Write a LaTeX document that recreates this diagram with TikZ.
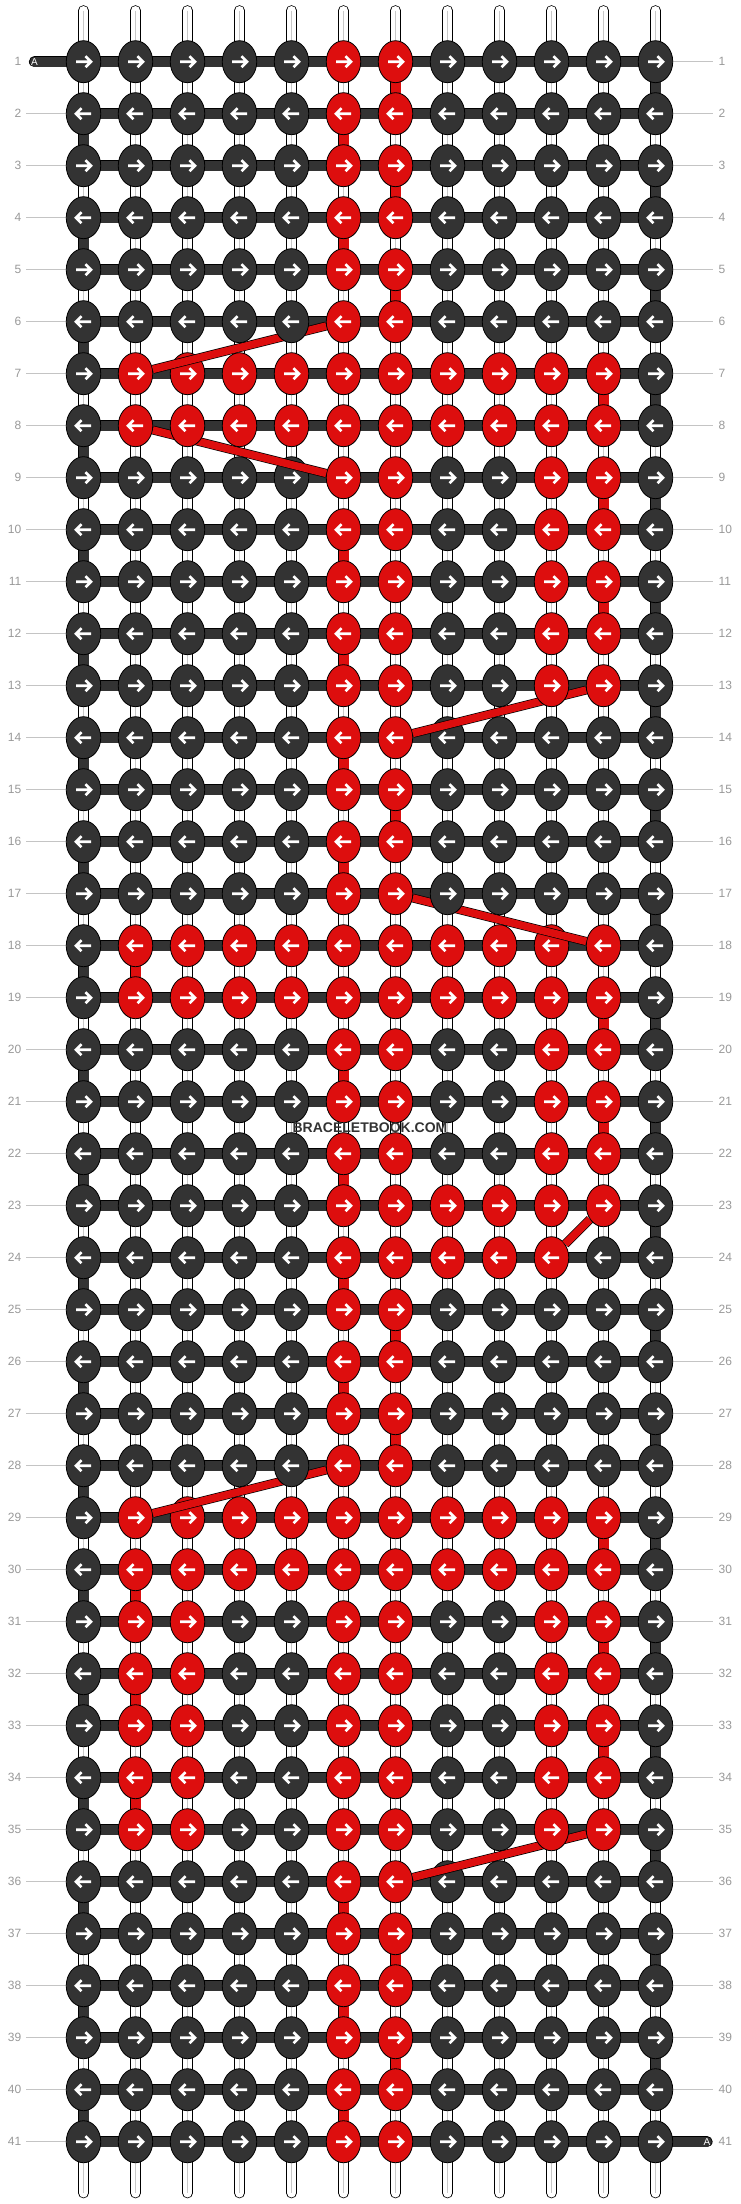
\documentclass[tikz,border=0pt]{standalone}
\usepackage{fontspec}
\setmainfont{Liberation Sans}
\usetikzlibrary{shapes.geometric}
\definecolor{kdark}{HTML}{333333}
\definecolor{kred}{HTML}{DD0E0E}
\definecolor{lblgray}{HTML}{999999}
\definecolor{lblline}{HTML}{C4C4C4}
\definecolor{tubegray}{HTML}{C8C8C8}
\pgfdeclarelayer{bg}
\pgfdeclarelayer{mid}
\pgfdeclarelayer{top}
\pgfsetlayers{bg,main,mid,top}
\tikzset{
  knot/.style={ellipse, draw=black, line width=0.8pt, minimum width=34.5pt, minimum height=42pt, inner sep=0pt},
  arrowline/.style={white, line width=2.6pt},
  hbar/.style={draw=black, line width=0.8pt, double=kdark, double distance=9.6pt},
  gapseg/.style={draw=black, line width=0.8pt, double distance=10pt},
  tube/.style={draw=black, line width=0.8pt, double=white, double distance=9pt},
  tubeline/.style={tubegray, line width=1pt},
  band/.style={draw=black, line width=0.7pt, double=kred, double distance=7.5pt},
  lbl/.style={text=lblgray, font=\fontsize{12}{14}\selectfont, inner ysep=0pt},
  lblrule/.style={lblline, line width=1pt},
  atext/.style={text=white, font=\fontsize{10}{12}\selectfont, inner sep=0pt},
  wmark/.style={text=kdark, font=\bfseries\fontsize{14}{16}\selectfont, inner sep=0pt}
}
\newcommand\drawknot[4]{% row, col, x, y
  \ifcsname isred-#1-#2\endcsname \def\kc{kred}\else\def\kc{kdark}\fi
  \node[knot, fill=\kc] (k-#1-#2) at (#3,#4) {};
  \ifodd#1\relax
    \draw[arrowline] (#3-7.5,#4) -- (#3+6.5,#4) (#3+2,#4-5.5) -- (#3+7.5,#4) -- (#3+2,#4+5.5);
  \else
    \draw[arrowline] (#3+7.5,#4) -- (#3-6.5,#4) (#3-2,#4-5.5) -- (#3-7.5,#4) -- (#3-2,#4+5.5);
  \fi
}
\begin{document}
\begin{tikzpicture}[x=1pt,y=-1pt]
\useasboundingbox (0,0) rectangle (740,2204);
% red knots
\foreach \r/\reds in {1/{6,7},2/{6,7},3/{6,7},4/{6,7},5/{6,7},6/{6,7},
  7/{2,...,11},8/{2,...,11},
  9/{6,7,10,11},10/{6,7,10,11},11/{6,7,10,11},12/{6,7,10,11},13/{6,7,10,11},
  14/{6,7},15/{6,7},16/{6,7},17/{6,7},
  18/{2,...,11},19/{2,...,11},
  20/{6,7,10,11},21/{6,7,10,11},22/{6,7,10,11},
  23/{6,...,11},24/{6,...,10},
  25/{6,7},26/{6,7},27/{6,7},28/{6,7},
  29/{2,...,11},30/{2,...,11},
  31/{2,3,6,7,10,11},32/{2,3,6,7,10,11},33/{2,3,6,7,10,11},34/{2,3,6,7,10,11},35/{2,3,6,7,10,11},
  36/{6,7},37/{6,7},38/{6,7},39/{6,7},40/{6,7},41/{6,7}}{
  \foreach \c in \reds {\expandafter\gdef\csname isred-\r-\c\endcsname{}}
}
% rows whose knots lie above the carried strings
\foreach \r in {6,8,13,17,23,28,35}{\expandafter\gdef\csname toprow-\r\endcsname{}}
% coloured gaps between row r and r+1
\foreach \r/\c in {1/7,2/6,3/7,4/6,5/7,7/11,9/11,10/6,11/11,12/6,14/6,15/7,16/6,18/2,19/11,20/6,21/11,22/6,
  24/6,25/7,26/6,27/7,29/11,30/2,31/11,32/2,33/11,34/2,36/6,37/7,38/6,39/7,40/6}{
  \expandafter\gdef\csname gap-\r-\c\endcsname{kred}
}
\foreach \r in {1,...,40}{
  \ifodd\r\relax \expandafter\gdef\csname gap-\r-12\endcsname{kdark}%
  \else \expandafter\gdef\csname gap-\r-1\endcsname{kdark}\fi
}
% knots
\foreach \r in {1,...,41}{
  \pgfmathsetmacro\yy{9.7+52*\r}
  \foreach \c in {1,...,12}{
    \pgfmathsetmacro\xx{31.5+52*\c}
    \ifcsname toprow-\r\endcsname
      \begin{pgfonlayer}{top}\drawknot{\r}{\c}{\xx}{\yy}\end{pgfonlayer}
    \else
      \drawknot{\r}{\c}{\xx}{\yy}
    \fi
  }
  \node[lbl, anchor=east, inner xsep=4.5pt] (ll-\r) at (26,\yy) {\r};
  \node[lbl, anchor=west, inner xsep=5.5pt] (rl-\r) at (713,\yy) {\r};
}
% end tabs
\begin{pgfonlayer}{top}
\node[atext] (aL) at (34.5,61.7) {A};
\node[atext] (aR) at (707,2141.7) {A};
\end{pgfonlayer}
\foreach \c in {1,...,12}{
  \pgfmathsetmacro\xx{31.5+52*\c}
  \coordinate (t-\c) at (\xx,10.5);
  \coordinate (b-\c) at (\xx,2193);
}
\begin{pgfonlayer}{bg}
  \fill[white] (0,0) rectangle (740,2204);
  % label rules
  \foreach \r in {2,...,41}{\draw[lblrule] (ll-\r.east) -- (k-\r-1.west);}
  \foreach \r in {1,...,40}{\draw[lblrule] (k-\r-12.east) -- (rl-\r.west);}
  % vertical strings
  \foreach \c in {1,...,12}{
    \draw[tube, line cap=round] (t-\c) -- (k-1-\c.center);
    \draw[tubeline] (t-\c) -- (k-1-\c.center);
    \draw[tube, line cap=round] (k-41-\c.center) -- (b-\c);
    \draw[tubeline] (k-41-\c.center) -- (b-\c);
  }
  \foreach \r in {1,...,40}{
    \pgfmathtruncatemacro\rn{\r+1}
    \foreach \c in {1,...,12}{
      \ifcsname gap-\r-\c\endcsname
        \edef\gc{\csname gap-\r-\c\endcsname}
        \draw[gapseg, double=\gc] (k-\r-\c.center) -- (k-\rn-\c.center);
      \else
        \draw[tube] (k-\r-\c.center) -- (k-\rn-\c.center);
        \draw[tubeline] (k-\r-\c.center) -- (k-\rn-\c.center);
      \fi
    }
  }
  % horizontal weft
  \foreach \r in {1,...,41}{\draw[hbar] (k-\r-1.center) -- (k-\r-12.center);}
  \draw[hbar, line cap=round] (aL.center) -- (k-1-1.center);
  \draw[hbar, line cap=round] (k-41-12.center) -- (aR.center);
\end{pgfonlayer}
% carried red strings: above the lower row, below the upper row
\begin{pgfonlayer}{mid}
\draw[band] (k-6-6) -- (k-7-2);
\draw[band] (k-8-2) -- (k-9-6);
\draw[band] (k-13-11) -- (k-14-7);
\draw[band] (k-17-7) -- (k-18-11);
\draw[band] (k-23-11) -- (k-24-10);
\draw[band] (k-28-6) -- (k-29-2);
\draw[band] (k-35-11) -- (k-36-7);
\end{pgfonlayer}
\begin{pgfonlayer}{top}
\node[wmark] (wm) at (370,1127.7) {BRACELETBOOK.COM};
\end{pgfonlayer}
\end{tikzpicture}
\end{document}
